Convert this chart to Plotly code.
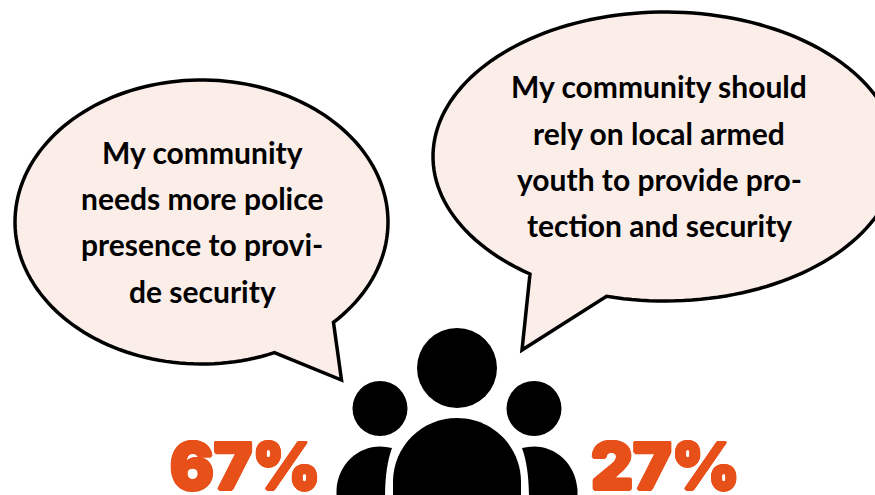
import numpy as np
import plotly.graph_objects as go

left_lines = ["My community", "needs more police", "presence to provi-", "de security"]
right_lines = ["My community should", "rely on local armed", "youth to provide pro-", "tection and security"]
left_value = "67%"
right_value = "27%"

FILL = "#FBEEE9"
ORANGE = "#E8501A"
W, H = 875, 495


def bubble(cx, cy, rx, ry, start, tip, end):
    """Ellipse outline going clockwise from `end` round to `start`, then the tail."""
    a0 = np.arctan2((end[1] - cy) / ry, (end[0] - cx) / rx)
    a1 = np.arctan2((start[1] - cy) / ry, (start[0] - cx) / rx)
    if a1 <= a0:
        a1 += 2 * np.pi
    t = np.linspace(a0, a1, 160)
    pts = [f"{cx + rx * np.cos(a):.2f},{cy + ry * np.sin(a):.2f}" for a in t]
    return "M" + " L".join(pts) + f" L{tip[0]},{tip[1]} Z"


shapes = [
    dict(type="path", path=bubble(201.5, 222, 186.5, 142, (333, 322), (341.5, 380), (274, 352)),
         fillcolor=FILL, line=dict(color="black", width=3.5), xref="x", yref="y"),
    dict(type="path", path=bubble(665, 156.5, 232, 144.5, (606.7, 296), (522, 350), (530, 274)),
         fillcolor=FILL, line=dict(color="black", width=3.5), xref="x", yref="y"),
]

for cx, cy, r in [(457, 368, 40), (380, 408.5, 27.5), (534, 408.5, 27.5)]:
    shapes.append(dict(type="circle", x0=cx - r, x1=cx + r, y0=cy - r, y1=cy + r,
                       fillcolor="black", line=dict(width=0), xref="x", yref="y"))

# Bodies of the three figures
shapes += [
    dict(type="path", path="M393,500 L393,482 C393,446 422,418 457,418 C492,418 521,446 521,482 L521,500 Z",
         fillcolor="black", line=dict(width=0), xref="x", yref="y"),
    dict(type="path", path="M336.5,500 L336.5,490 C338,464 358,446.5 380,446.5 C384,446.5 388,447 392,448 C387,462 385,478 385,500 Z",
         fillcolor="black", line=dict(width=0), xref="x", yref="y"),
    dict(type="path", path="M577.5,500 L577.5,490 C576,464 556,446.5 534,446.5 C530,446.5 526,447 522,448 C527,462 529,478 529,500 Z",
         fillcolor="black", line=dict(width=0), xref="x", yref="y"),
]

annotations = []
for text, y in zip(left_lines, [152, 198, 244, 291]):
    annotations.append(dict(x=202, y=y, text=text, showarrow=False, xanchor="center", yanchor="middle",
                            font=dict(family="Lato", size=30, color="black", weight=700)))
for text, y in zip(right_lines, [86, 133, 179, 225]):
    annotations.append(dict(x=659, y=y, text=text, showarrow=False, xanchor="center", yanchor="middle",
                            font=dict(family="Lato", size=30, color="black", weight=700)))
THICK = ", ".join(f"{dx}px {dy}px 0 {ORANGE}" for dx, dy in [(1.5, 0), (-1.5, 0), (0, 1.5), (0, -1.5), (1, 1), (-1, 1), (1, -1), (-1, -1)])
for text, x in [(left_value, 245), (right_value, 665.5)]:
    annotations.append(dict(x=x, y=465, text=text, showarrow=False, xanchor="center", yanchor="middle",
                            font=dict(family="Inter", size=65, color=ORANGE, weight=900, shadow=THICK)))

fig = go.Figure()
fig.update_layout(
    width=W, height=H, autosize=False,
    margin=dict(l=0, r=0, t=0, b=0),
    paper_bgcolor="white", plot_bgcolor="white",
    xaxis=dict(range=[0, W], visible=False, fixedrange=True),
    yaxis=dict(range=[H, 0], visible=False, fixedrange=True),
    shapes=shapes, annotations=annotations, showlegend=False,
)
fig.write_html("out.html", config=dict(displayModeBar=False),
               post_script="document.body.style.margin='0';document.body.style.overflow='hidden';")
